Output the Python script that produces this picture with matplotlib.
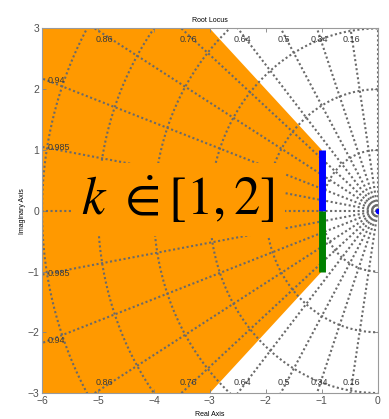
import numpy as np
import matplotlib
matplotlib.use("Agg")
import matplotlib.pyplot as plt
from matplotlib.patches import Polygon

# s-plane grid: damping-ratio rays and natural-frequency circles
zeta_rays = [1.0, 0.985, 0.94, 0.86, 0.76, 0.64, 0.5, 0.34, 0.16, 0.0]
zeta_top_labels = [0.86, 0.76, 0.64, 0.5, 0.34, 0.16]
zeta_left_labels = [0.94, 0.985]
wn_circles = [1, 2, 3, 4, 5, 6]

# Admissible pole region: Re(s) <= -1 and zeta >= 0.707
region_re = [-6, -3, -1, -1, -3, -6]
region_im = [3, 3, 1, -1, -3, -3]

# Closed-loop pole branches on Re(s) = -1 for k in [1, 2]
branch_re = [-1, -1]
branch_upper = [0, 1]
branch_lower = [0, -1]
open_loop_pole = (0, 0)

xticks = [-6, -5, -4, -3, -2, -1, 0]
yticks = [-3, -2, -1, 0, 1, 2, 3]
xlim = (-6, 0)
ylim = (-3, 3)

ORANGE = "#FF9900"
GRID = "#6a6a6a"
LABEL = "#3a3a3a"
TICK = "#505050"
SANS = "Liberation Sans"

plt.rcParams["mathtext.fontset"] = "stix"

fig = plt.figure(figsize=(3.89, 4.19), dpi=100)
ax = fig.add_axes([0.108, 0.062, 0.863, 0.870])
ax.set_xlim(*xlim)
ax.set_ylim(*ylim)

# shaded design region
ax.add_patch(Polygon(np.column_stack([region_re, region_im]), closed=True,
                     facecolor=ORANGE, edgecolor="none", zorder=1))

dot = dict(color=GRID, lw=1.5, linestyle=(0, (1.0, 1.2)), zorder=2,
           dash_capstyle="butt")

# damping-ratio rays
for z in zeta_rays:
    th = np.arccos(z)
    r = np.array([0, 12])
    ax.plot(-r * np.cos(th), r * np.sin(th), **dot)
    if z not in (0.0, 1.0):
        ax.plot(-r * np.cos(th), -r * np.sin(th), **dot)

# natural-frequency half circles
phi = np.linspace(np.pi / 2, 3 * np.pi / 2, 400)
for wn in wn_circles:
    ax.plot(wn * np.cos(phi), wn * np.sin(phi), **dot)

# damping-ratio labels
for z in zeta_top_labels:
    x = -2.9 * z / np.sqrt(1 - z ** 2)
    lab = f"{z:g}"
    ax.text(x, 2.9, lab, ha="center", va="top", fontsize=6.5,
            family=SANS, color=LABEL, zorder=3)
    ax.text(x, -2.9, lab, ha="center", va="bottom", fontsize=6.5,
            family=SANS, color=LABEL, zorder=3)
for z in zeta_left_labels:
    y = 5.9 * np.sqrt(1 - z ** 2) / z
    lab = f"{z:g}"
    ax.text(-5.9, y, lab, ha="left", va="center", fontsize=6.5,
            family=SANS, color=LABEL, zorder=3)
    ax.text(-5.9, -y, lab, ha="left", va="center", fontsize=6.5,
            family=SANS, color=LABEL, zorder=3)

# gain interval annotation
ax.text(-3.57, 0.18, r"$k\ \dot{\in}\left[1,2\right]$", ha="center",
        va="center", fontsize=38, color="black", zorder=4,
        bbox=dict(boxstyle="square,pad=0.2", facecolor=ORANGE,
                  edgecolor="none"))

# pole branches
ax.plot(branch_re, branch_upper, color="#0000FF", lw=5, solid_capstyle="butt",
        zorder=5)
ax.plot(branch_re, branch_lower, color="#008000", lw=5, solid_capstyle="butt",
        zorder=5)
ax.plot(*open_loop_pole, "o", color="#0000FF", ms=3, zorder=5)

ax.set_xticks(xticks)
ax.set_yticks(yticks)
ax.tick_params(direction="in", length=3, width=0.6, top=True, right=True,
               labelsize=7.5, labelcolor=TICK, color="#808080", pad=2)
for lbl in ax.get_xticklabels() + ax.get_yticklabels():
    lbl.set_family(SANS)
for sp in ax.spines.values():
    sp.set_color("#9a9a9a")
    sp.set_linewidth(0.8)

ax.set_title("Root Locus", fontsize=5, family=SANS, pad=5)
ax.set_xlabel("Real Axis", fontsize=5, family=SANS, labelpad=4)
ax.set_ylabel("Imaginary Axis", fontsize=5, family=SANS, labelpad=1)

fig.savefig("out.png", dpi=100)
